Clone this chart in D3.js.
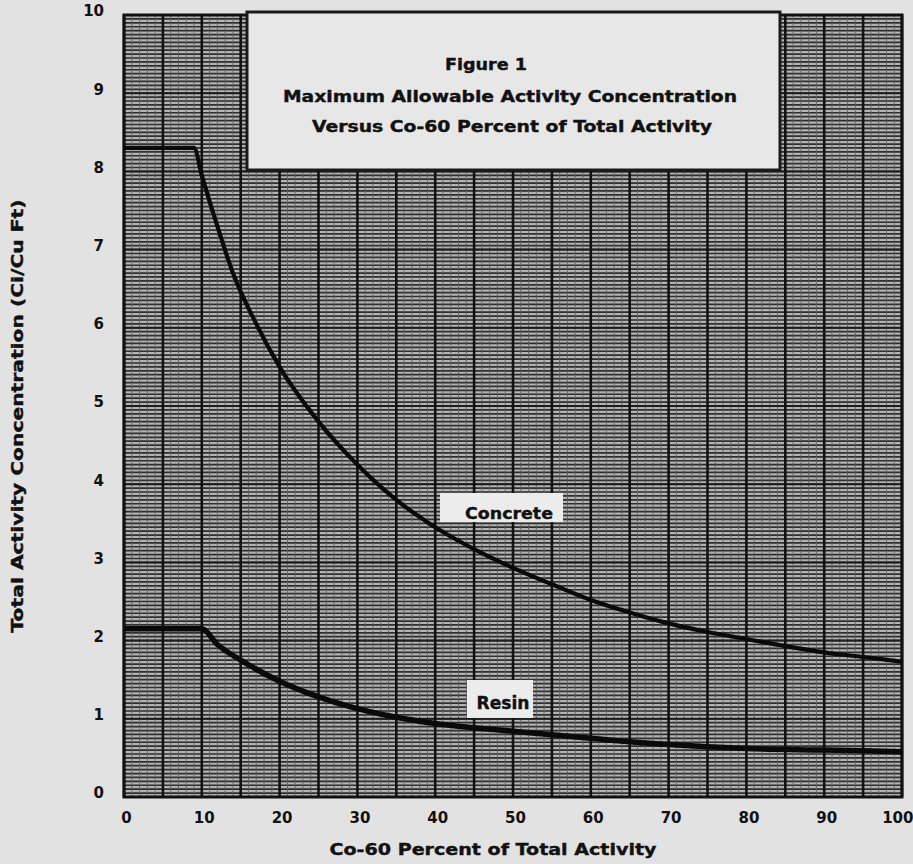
<!DOCTYPE html>
<html>
<head>
<meta charset="utf-8">
<script src="https://cdn.jsdelivr.net/npm/d3@7"></script>
<style>
  html, body { margin: 0; padding: 0; background: #e2e2e2; }
  svg { display: block; }
  text { font-family: "DejaVu Sans", sans-serif; font-weight: bold; fill: #111; }
</style>
</head>
<body>
<svg id="chart" width="913" height="864"></svg>
<script>
// ---- data ----
const xTicks = [0, 10, 20, 30, 40, 50, 60, 70, 80, 90, 100];
const yTicks = [0, 1, 2, 3, 4, 5, 6, 7, 8, 9, 10];
const yTickLabels = ["0", "1", "2", "3", "4", "5", "6", "7", "8", "9", "10"];

const concreteX = [0, 9, 10, 12, 14, 17, 20, 25, 30, 35, 40, 45, 50, 55, 60, 65, 70, 75, 80, 85, 90, 95, 100];
const concreteY = [8.3, 8.3, 7.95, 7.3, 6.7, 6.05, 5.5, 4.8, 4.25, 3.8, 3.45, 3.17, 2.93, 2.72, 2.52, 2.36, 2.22, 2.11, 2.02, 1.93, 1.85, 1.79, 1.73];

const resinX = [0, 10, 12, 15, 20, 25, 30, 35, 40, 50, 60, 70, 80, 90, 100];
const resinY = [2.15, 2.15, 1.95, 1.75, 1.48, 1.28, 1.13, 1.02, 0.94, 0.84, 0.75, 0.67, 0.62, 0.60, 0.58];

const titleLines = ["Figure 1", "Maximum Allowable Activity Concentration", "Versus Co-60 Percent of Total Activity"];
const xAxisTitle = "Co-60 Percent of Total Activity";
const yAxisTitle = "Total Activity Concentration (Ci/Cu Ft)";
const seriesLabels = ["Concrete", "Resin"];

// ---- layout ----
const svg = d3.select("#chart");
const pL = 124, pR = 902, pT = 15, pB = 797;
const x = d3.scaleLinear().domain([0, 100]).range([pL, pR]);
const y = d3.scaleLinear().domain([0, 10]).range([pB, pT]);

// plot background
svg.append("rect").attr("x", pL).attr("y", pT)
  .attr("width", pR - pL).attr("height", pB - pT)
  .attr("fill", "#b3b3b3");

const grid = svg.append("g");
// fine horizontal rules
grid.selectAll("line.hf").data(d3.range(0, 10.0001, 0.05)).join("line")
  .attr("x1", pL).attr("x2", pR)
  .attr("y1", d => y(d)).attr("y2", d => y(d))
  .attr("stroke", "#2e2e2e").attr("stroke-width", 1.7);
// fine vertical rules
grid.selectAll("line.vf").data(d3.range(0, 100.001, 1)).join("line")
  .attr("y1", pT).attr("y2", pB)
  .attr("x1", d => x(d)).attr("x2", d => x(d))
  .attr("stroke", "#5a5a5a").attr("stroke-width", 0.8);
// heavier horizontal rules
grid.selectAll("line.hm").data(d3.range(0, 10.0001, 1)).join("line")
  .attr("x1", pL).attr("x2", pR)
  .attr("y1", d => y(d)).attr("y2", d => y(d))
  .attr("stroke", "#1c1c1c").attr("stroke-width", 2);
// heavy vertical rules
grid.selectAll("line.vm").data(d3.range(0, 100.001, 5)).join("line")
  .attr("y1", pT).attr("y2", pB)
  .attr("x1", d => x(d)).attr("x2", d => x(d))
  .attr("stroke", "#121212").attr("stroke-width", 2.6);

// frame
svg.append("rect").attr("x", pL).attr("y", pT)
  .attr("width", pR - pL).attr("height", pB - pT)
  .attr("fill", "none").attr("stroke", "#111").attr("stroke-width", 3);

// title box
svg.append("rect").attr("x", 247).attr("y", 12).attr("width", 533).attr("height", 158)
  .attr("fill", "#e7e7e7").attr("stroke", "#1a1a1a").attr("stroke-width", 3);
const tl = [
  {t: titleLines[0], cx: 486, by: 70, len: 82},
  {t: titleLines[1], cx: 510, by: 102, len: 454},
  {t: titleLines[2], cx: 512, by: 132, len: 400}
];
svg.selectAll("text.title").data(tl).join("text")
  .attr("class", "title")
  .attr("x", d => d.cx).attr("y", d => d.by)
  .attr("text-anchor", "middle")
  .attr("font-size", 16)
  .attr("stroke", "#111").attr("stroke-width", 0.4)
  .attr("textLength", d => d.len).attr("lengthAdjust", "spacingAndGlyphs")
  .text(d => d.t);

// curves
const line = d3.line().x(d => x(d[0])).y(d => y(d[1])).curve(d3.curveMonotoneX);
const concrete = d3.zip(concreteX, concreteY);
const resin = d3.zip(resinX, resinY);
svg.append("path").datum(concrete).attr("d", line)
  .attr("fill", "none").attr("stroke", "#0a0a0a").attr("stroke-width", 4.2);
svg.append("path").datum(resin).attr("d", line)
  .attr("fill", "none").attr("stroke", "#0a0a0a").attr("stroke-width", 5.5);

// series labels
svg.append("rect").attr("x", 440).attr("y", 493).attr("width", 123).attr("height", 29).attr("fill", "#ececec");
svg.append("text").attr("x", 509).attr("y", 519).attr("text-anchor", "middle")
  .attr("font-size", 16).attr("stroke", "#111").attr("stroke-width", 0.4)
  .attr("textLength", 88).attr("lengthAdjust", "spacingAndGlyphs")
  .text(seriesLabels[0]);
svg.append("rect").attr("x", 467).attr("y", 680).attr("width", 66).attr("height", 38).attr("fill", "#ececec");
svg.append("text").attr("x", 503).attr("y", 709).attr("text-anchor", "middle")
  .attr("font-size", 17).attr("stroke", "#111").attr("stroke-width", 0.4)
  .attr("textLength", 53).attr("lengthAdjust", "spacingAndGlyphs")
  .text(seriesLabels[1]);

// x axis tick labels
const xAxis = d3.axisBottom(x).tickValues(xTicks).tickSize(0).tickPadding(0).tickFormat(d3.format("d"));
const gx = svg.append("g").attr("transform", `translate(2,${pB + 15})`).call(xAxis);
gx.select(".domain").remove();
gx.selectAll("text").attr("font-size", 15).attr("font-family", "DejaVu Sans").attr("font-weight", "bold").attr("fill", "#111");
gx.selectAll(".tick").filter(d => d === 100).select("text").attr("text-anchor", "end").attr("x", 9);

// y axis tick labels
const yAxis = d3.axisLeft(y).tickValues(yTicks).tickSize(0).tickPadding(0).tickFormat((d, i) => yTickLabels[i]);
const gy = svg.append("g").attr("transform", `translate(104,-4)`).call(yAxis);
gy.select(".domain").remove();
gy.selectAll("text").attr("font-size", 15).attr("font-family", "DejaVu Sans").attr("font-weight", "bold").attr("fill", "#111");

// axis titles
svg.append("text").attr("x", 493).attr("y", 855).attr("text-anchor", "middle")
  .attr("font-size", 16).attr("stroke", "#111").attr("stroke-width", 0.4)
  .attr("textLength", 327).attr("lengthAdjust", "spacingAndGlyphs")
  .text(xAxisTitle);
svg.append("text").attr("transform", "translate(23,416) rotate(-90)").attr("text-anchor", "middle")
  .attr("font-size", 15).attr("stroke", "#111").attr("stroke-width", 0.4)
  .attr("textLength", 433).attr("lengthAdjust", "spacingAndGlyphs")
  .text(yAxisTitle);
</script>
</body>
</html>
